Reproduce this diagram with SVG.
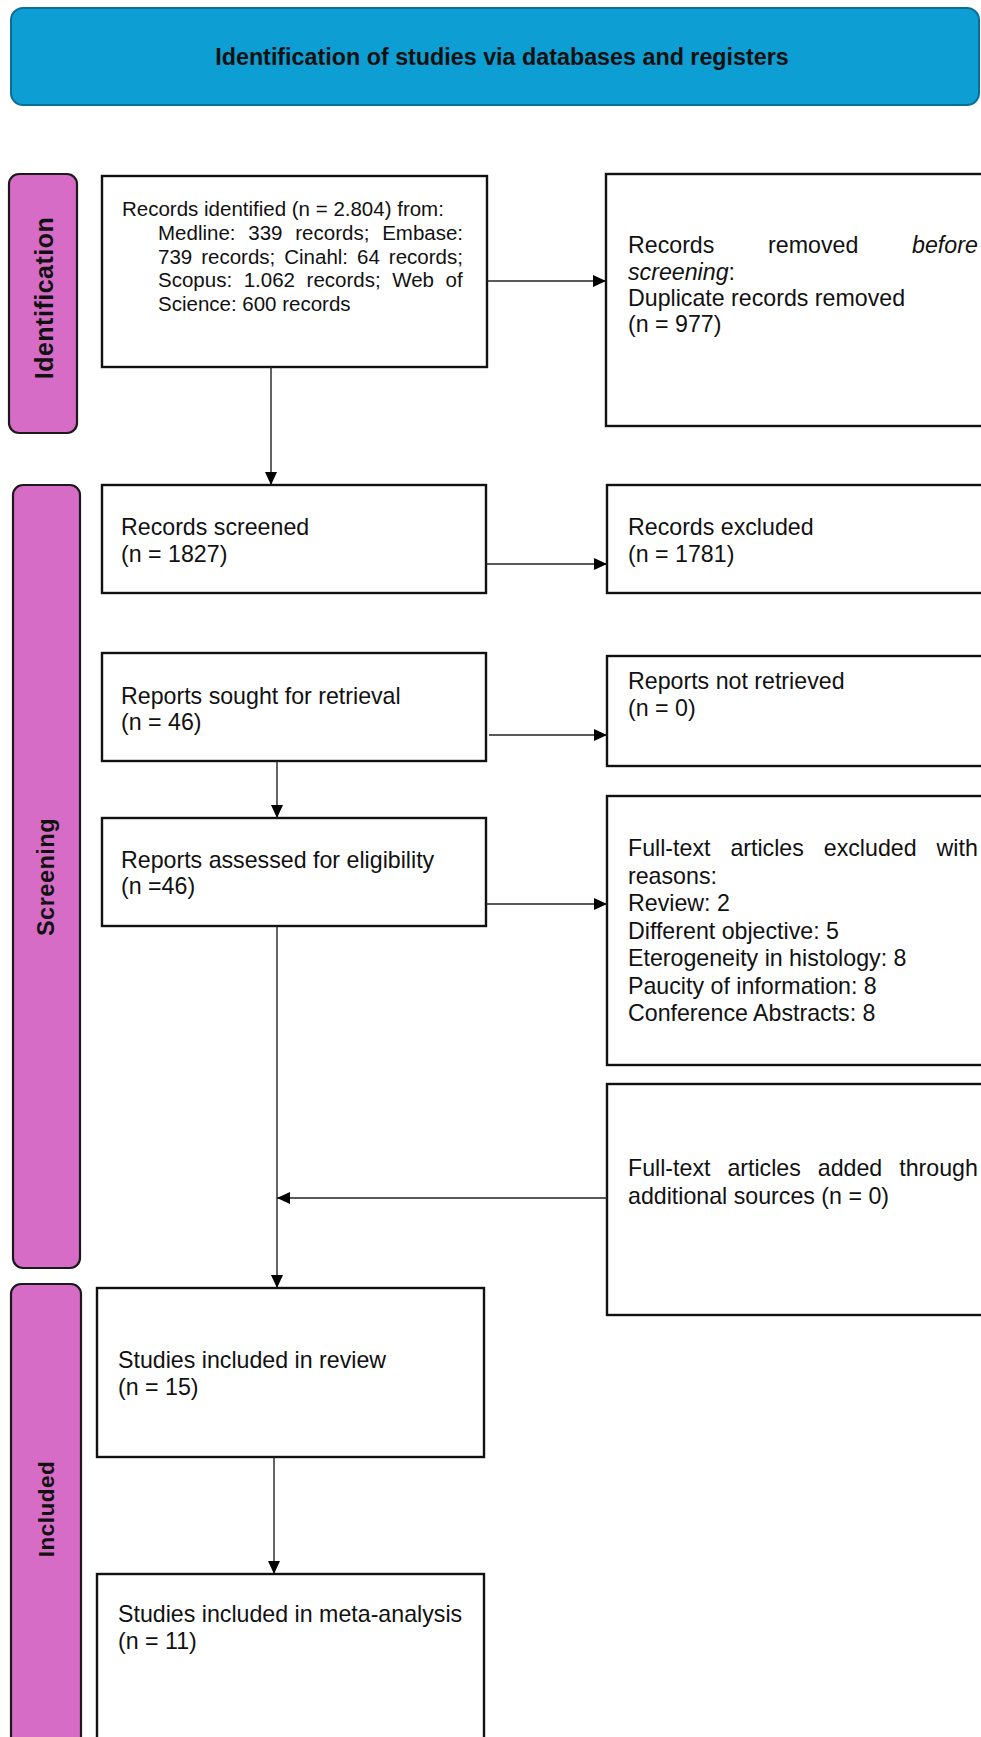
<svg xmlns="http://www.w3.org/2000/svg" width="981" height="1737" viewBox="0 0 981 1737">
<defs>
<marker id="arr" viewBox="0 0 13 12" refX="13" refY="6" markerWidth="13" markerHeight="12" markerUnits="userSpaceOnUse" orient="auto">
<path d="M0,0 L13,6 L0,12 z" fill="#000"/>
</marker>
</defs>
<style>
.box{fill:#fff;stroke:#111;stroke-width:2.4}
.side{fill:#d76cc7;stroke:#1a1a1a;stroke-width:2.2}
.t{font-family:"Liberation Sans",Arial,sans-serif;font-size:23.2px;fill:#111}
.ts{font-family:"Liberation Sans",Arial,sans-serif;font-size:20.5px;fill:#111}
.lab{font-family:"Liberation Sans",Arial,sans-serif;font-weight:bold;fill:#111;text-anchor:middle;letter-spacing:0.5px}
.title{font-family:"Liberation Sans",Arial,sans-serif;font-size:23.3px;font-weight:bold;fill:#111;text-anchor:middle}
.c{fill:none;stroke:#222;stroke-width:1.4;marker-end:url(#arr)}
</style>
<rect width="981" height="1737" fill="#fff"/>
<g id="banner">
<rect x="11" y="8" width="968" height="97" rx="12" fill="#0d9ed3" stroke="#0b6e96" stroke-width="2"/>
<text class="title" x="502" y="65">Identification of studies via databases and registers</text>
</g>
<g id="label-identification">
<rect class="side" x="9" y="174" width="68" height="259" rx="10"/>
<text class="lab" font-size="25" transform="translate(53,298) rotate(-90)">Identification</text>
</g>
<g id="label-screening">
<rect class="side" x="13" y="485" width="67" height="783" rx="10"/>
<text class="lab" font-size="23.5" transform="translate(54,877) rotate(-90)">Screening</text>
</g>
<g id="label-included">
<rect class="side" x="11" y="1284" width="70" height="470" rx="10"/>
<text class="lab" font-size="22.5" transform="translate(54,1509) rotate(-90)">Included</text>
</g>
<g id="records-identified">
<rect class="box" x="102" y="176" width="385" height="191"/>
<text class="ts" x="122" y="216">Records identified (n = 2.804) from:</text>
<text class="ts" x="158" y="240" word-spacing="7.1">Medline: 339 records; Embase:</text>
<text class="ts" x="158" y="264" word-spacing="3.3">739 records; Cinahl: 64 records;</text>
<text class="ts" x="158" y="287" word-spacing="5.9">Scopus: 1.062 records; Web of</text>
<text class="ts" x="158" y="311">Science: 600 records</text>
</g>
<g id="records-removed">
<rect class="box" x="606" y="174" width="380" height="252"/>
<text class="t" x="628" y="253" word-spacing="47.3">Records removed <tspan font-style="italic">before</tspan></text>
<text class="t" x="628" y="280"><tspan font-style="italic">screening</tspan>:</text>
<text class="t" x="628" y="306">Duplicate records removed</text>
<text class="t" x="628" y="332">(n = 977)</text>
</g>
<g id="records-screened">
<rect class="box" x="102" y="485" width="384" height="108"/>
<text class="t" x="121" y="535">Records screened</text>
<text class="t" x="121" y="562">(n = 1827)</text>
</g>
<g id="records-excluded">
<rect class="box" x="607" y="485" width="380" height="108"/>
<text class="t" x="628" y="535">Records excluded</text>
<text class="t" x="628" y="562">(n = 1781)</text>
</g>
<g id="reports-sought">
<rect class="box" x="102" y="653" width="384" height="108"/>
<text class="t" x="121" y="704">Reports sought for retrieval</text>
<text class="t" x="121" y="730">(n = 46)</text>
</g>
<g id="reports-not-retrieved">
<rect class="box" x="607" y="656" width="380" height="110"/>
<text class="t" x="628" y="689">Reports not retrieved</text>
<text class="t" x="628" y="716">(n = 0)</text>
</g>
<g id="reports-assessed">
<rect class="box" x="102" y="818" width="384" height="108"/>
<text class="t" x="121" y="868">Reports assessed for eligibility</text>
<text class="t" x="121" y="894">(n =46)</text>
</g>
<g id="fulltext-excluded">
<rect class="box" x="607" y="796" width="380" height="269"/>
<text class="t" x="628" y="856" word-spacing="13.5">Full-text articles excluded with</text>
<text class="t" x="628" y="884">reasons:</text>
<text class="t" x="628" y="911">Review: 2</text>
<text class="t" x="628" y="939">Different objective: 5</text>
<text class="t" x="628" y="966">Eterogeneity in histology: 8</text>
<text class="t" x="628" y="994">Paucity of information: 8</text>
<text class="t" x="628" y="1021">Conference Abstracts: 8</text>
</g>
<g id="fulltext-added">
<rect class="box" x="607" y="1084" width="380" height="231"/>
<text class="t" x="628" y="1176" word-spacing="10.5">Full-text articles added through</text>
<text class="t" x="628" y="1204">additional sources (n = 0)</text>
</g>
<g id="studies-review">
<rect class="box" x="97" y="1288" width="387" height="169"/>
<text class="t" x="118" y="1368">Studies included in review</text>
<text class="t" x="118" y="1395">(n = 15)</text>
</g>
<g id="studies-meta">
<rect class="box" x="97" y="1574" width="387" height="175"/>
<text class="t" x="118" y="1622">Studies included in meta-analysis</text>
<text class="t" x="118" y="1649">(n = 11)</text>
</g>
<g id="connectors">
<line class="c" x1="487" y1="281" x2="606" y2="281"/>
<line class="c" x1="271" y1="367" x2="271" y2="485"/>
<line class="c" x1="486" y1="564" x2="607" y2="564"/>
<line class="c" x1="489" y1="735" x2="607" y2="735"/>
<line class="c" x1="277" y1="761" x2="277" y2="818"/>
<line class="c" x1="486" y1="904" x2="607" y2="904"/>
<line class="c" x1="277" y1="926" x2="277" y2="1288"/>
<line class="c" x1="607" y1="1198" x2="277" y2="1198"/>
<line class="c" x1="274" y1="1457" x2="274" y2="1574"/>
</g>
</svg>
